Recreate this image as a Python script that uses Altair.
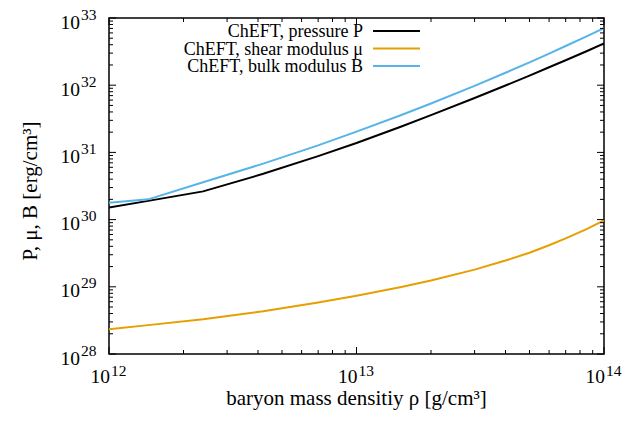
import altair as alt
import pandas as pd

# Baryon mass density [g/cm^3]
density = [1.0e12, 1.44e12, 2.4e12, 4.2e12, 7.0e12, 1.0e13, 1.5e13, 2.0e13,
           3.0e13, 4.0e13, 5.0e13, 6.0e13, 7.0e13, 8.5e13, 1.0e14]
# Pressure, shear modulus and bulk modulus [erg/cm^3]
pressure = [1.51e30, 1.90e30, 2.63e30, 4.8e30, 8.8e30, 1.38e31, 2.39e31, 3.59e31,
            6.44e31, 9.9e31, 1.39e32, 1.85e32, 2.35e32, 3.2e32, 4.17e32]
shear = [2.34e28, 2.69e28, 3.30e28, 4.33e28, 5.82e28, 7.36e28, 9.86e28, 1.24e29,
         1.80e29, 2.46e29, 3.21e29, 4.15e29, 5.25e29, 7.23e29, 9.75e29]
bulk = [1.78e30, 2.0e30, 3.6e30, 6.8e30, 1.27e31, 2.04e31, 3.54e31, 5.34e31,
        9.77e31, 1.53e32, 2.19e32, 2.95e32, 3.83e32, 5.32e32, 7.08e32]

series_names = ["ChEFT, pressure P", "ChEFT, shear modulus μ", "ChEFT, bulk modulus B"]
series_colors = ["#000000", "#E69F00", "#56B4E9"]
series_values = [pressure, shear, bulk]

x_title = "baryon mass densitiy ρ [g/cm³]"
y_title = "P, μ, B [erg/cm³]"

x_major = [1e12, 1e13, 1e14]
x_exp = ["12", "13", "14"]
y_major = [1e28, 1e29, 1e30, 1e31, 1e32, 1e33]
y_exp = ["28", "29", "30", "31", "32", "33"]
x_minor = [m * d for d in (1e12, 1e13) for m in range(2, 10)]
y_minor = [m * d for d in (1e28, 1e29, 1e30, 1e31, 1e32) for m in range(2, 10)]

FONT = "Liberation Serif"
W, H = 495, 336
MAJ, MIN = 7, 4

xs = alt.Scale(type="log", domain=[1e12, 1e14], nice=False)
ys = alt.Scale(type="log", domain=[1e28, 1e33], nice=False)

layers = []

# data curves
for name, color, vals in zip(series_names, series_colors, series_values):
    df = pd.DataFrame({"rho": density, "value": vals})
    layers.append(
        alt.Chart(df).mark_line(color=color, strokeWidth=2, clip=True).encode(
            x=alt.X("rho:Q", scale=xs, axis=None),
            y=alt.Y("value:Q", scale=ys, axis=None),
            order=alt.Order("rho:Q"),
        )
    )

# inward ticks on all four sides
def xticks(vals, size):
    d = pd.DataFrame({"rho": vals})
    bottom = alt.Chart(d).mark_rule(color="black", strokeWidth=1).encode(
        x=alt.X("rho:Q", scale=xs, axis=None), y=alt.value(H), y2=alt.value(H - size))
    top = alt.Chart(d).mark_rule(color="black", strokeWidth=1).encode(
        x=alt.X("rho:Q", scale=xs, axis=None), y=alt.value(0), y2=alt.value(size))
    return [bottom, top]

def yticks(vals, size):
    d = pd.DataFrame({"value": vals})
    left = alt.Chart(d).mark_rule(color="black", strokeWidth=1).encode(
        y=alt.Y("value:Q", scale=ys, axis=None), x=alt.value(0), x2=alt.value(size))
    right = alt.Chart(d).mark_rule(color="black", strokeWidth=1).encode(
        y=alt.Y("value:Q", scale=ys, axis=None), x=alt.value(W), x2=alt.value(W - size))
    return [left, right]

layers += xticks(x_major, MAJ) + xticks(x_minor, MIN)
layers += yticks(y_major, MAJ) + yticks(y_minor, MIN)

# tick labels written as 10 with a raised exponent
xl = pd.DataFrame({"rho": x_major, "exp": x_exp})
layers.append(alt.Chart(xl).mark_text(text="10", font=FONT, fontSize=19.5, align="right",
                                      baseline="alphabetic", dx=1, color="black").encode(
    x=alt.X("rho:Q", scale=xs, axis=None), y=alt.value(H + 29)))
layers.append(alt.Chart(xl).mark_text(font=FONT, fontSize=15.5, align="left",
                                      baseline="alphabetic", dx=2, color="black").encode(
    x=alt.X("rho:Q", scale=xs, axis=None), y=alt.value(H + 22), text="exp:N"))

yl = pd.DataFrame({"value": y_major, "exp": y_exp})
layers.append(alt.Chart(yl).mark_text(text="10", font=FONT, fontSize=19.5, align="right",
                                      baseline="alphabetic", dy=10.5, color="black").encode(
    y=alt.Y("value:Q", scale=ys, axis=None), x=alt.value(-29)))
layers.append(alt.Chart(yl).mark_text(font=FONT, fontSize=15.5, align="left",
                                      baseline="alphabetic", dy=1.5, color="black").encode(
    y=alt.Y("value:Q", scale=ys, axis=None), x=alt.value(-28), text="exp:N"))

# axis titles
titles = pd.DataFrame({"t": [x_title, y_title]})
layers.append(alt.Chart(titles).transform_filter(alt.datum.t == x_title).mark_text(
    font=FONT, fontSize=21, align="center", baseline="alphabetic", color="black").encode(
    text="t:N", x=alt.value(W / 2), y=alt.value(H + 51)))
layers.append(alt.Chart(titles).transform_filter(alt.datum.t == y_title).mark_text(
    font=FONT, fontSize=21, align="center", baseline="alphabetic", angle=270,
    color="black").encode(
    text="t:N", x=alt.value(-72), y=alt.value(H / 2 + 5)))

# key in the upper left: label then line sample
for i, (name, color) in enumerate(zip(series_names, series_colors)):
    row_y = 13 + 17.5 * i
    d = pd.DataFrame({"label": [name]})
    layers.append(alt.Chart(d).mark_text(font=FONT, fontSize=18, align="right",
                                         baseline="alphabetic", color="black").encode(
        text="label:N", x=alt.value(254), y=alt.value(row_y + 6.3)))
    layers.append(alt.Chart(d).mark_rule(color=color, strokeWidth=2).encode(
        x=alt.value(264), x2=alt.value(311), y=alt.value(row_y)))

chart = alt.layer(*layers).properties(
    width=W, height=H,
    autosize=alt.AutoSizeParams(type="none"),
    padding={"left": 109, "top": 18, "right": 636 - 109 - W, "bottom": 422 - 18 - H},
    background="white",
).configure_view(stroke="black", strokeWidth=1.5)

chart.save("out.html", embed_options={"renderer": "svg", "actions": False})
